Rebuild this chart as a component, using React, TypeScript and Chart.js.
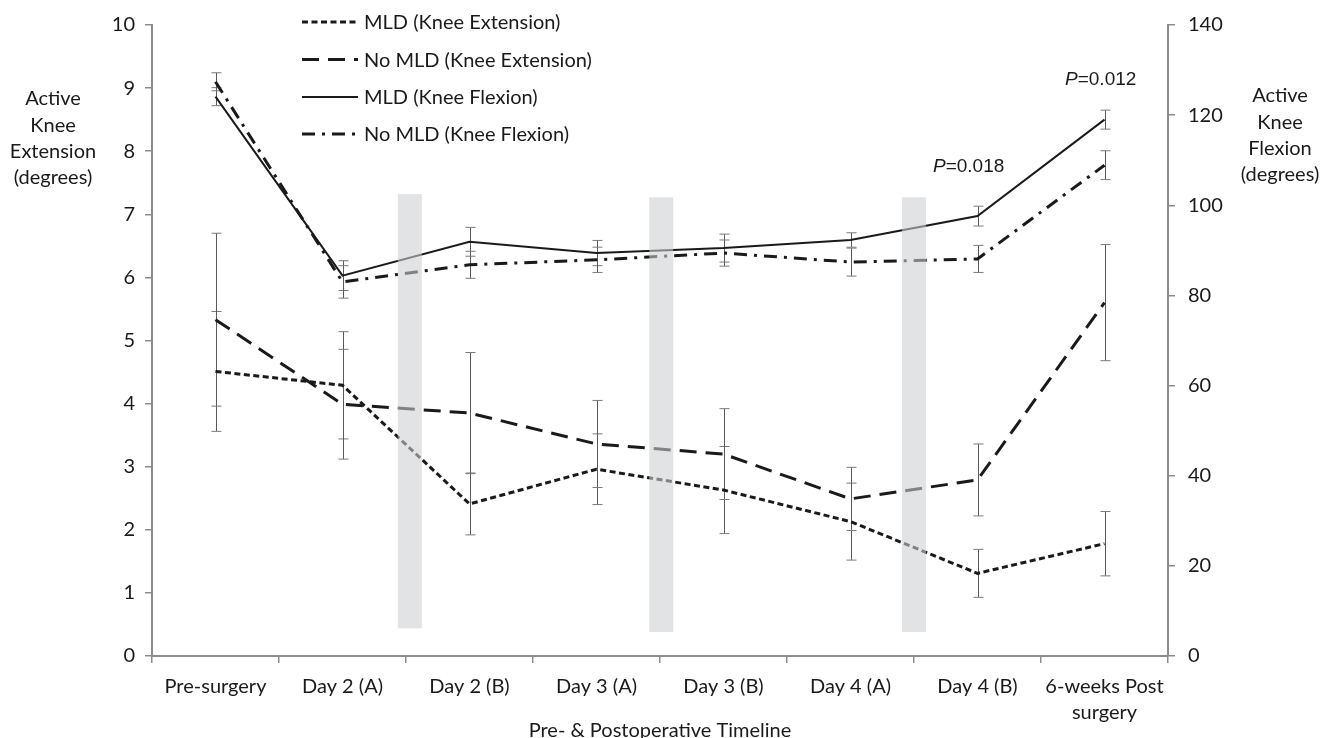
import React, { useEffect, useRef } from 'react';
import { Chart, registerables } from 'chart.js';

Chart.register(...registerables);

// ---------- data ----------
const categories: (string | string[])[] = [
  'Pre-surgery',
  'Day 2 (A)',
  'Day 2 (B)',
  'Day 3 (A)',
  'Day 3 (B)',
  'Day 4 (A)',
  'Day 4 (B)',
  ['6-weeks Post', 'surgery'],
];

const seriesNames = [
  'MLD (Knee Extension)',
  'No MLD (Knee Extension)',
  'MLD (Knee Flexion)',
  'No MLD (Knee Flexion)',
];

// left axis (extension, degrees)
const mldExtension = [4.51, 4.29, 2.41, 2.96, 2.63, 2.13, 1.31, 1.78];
const mldExtensionErr = [0.95, 0.85, 0.49, 0.56, 0.69, 0.61, 0.38, 0.51];
const noMldExtension = [5.33, 3.99, 3.85, 3.36, 3.2, 2.49, 2.79, 5.6];
const noMldExtensionErr = [1.37, 0.87, 0.96, 0.69, 0.72, 0.5, 0.57, 0.92];

// right axis (flexion, degrees)
const mldFlexion = [124.1, 84.4, 91.9, 89.4, 90.5, 92.3, 97.6, 119.0];
const mldFlexionErr = [2.0, 3.3, 3.2, 2.8, 3.1, 1.6, 2.2, 2.1];
const noMldFlexion = [127.4, 83.0, 86.8, 87.9, 89.4, 87.4, 88.1, 108.9];
const noMldFlexionErr = [2.0, 3.6, 3.0, 2.8, 2.9, 3.1, 3.0, 3.2];

// grey session bands (category position, extension-axis range)
const bandPositions = [1.53, 3.51, 5.5];
const bandTops = [7.32, 7.27, 7.27];
const bandBottoms = [0.44, 0.38, 0.38];

// p-value annotations (category position, flexion-axis value)
const pLabels = ['=0.018', '=0.012'];
const pPositions = [5.93, 6.97];
const pFlexion = [108.6, 127.8];

const extTicks = { min: 0, max: 10, step: 1 };
const flexTicks = { min: 0, max: 140, step: 20 };

// ---------- styles ----------
const FONT = 'Lato, "Open Sans", sans-serif';
const FS = 20;
const TEXT = '#1a1a1a';
const AXIS = '#8c8c8c';
const LINE = '#1a1a1a';
const dashes: number[][] = [[6, 3.5], [17, 9], [], [13, 7, 3, 7]];
const widths = [3, 3, 2, 3];

export default function App() {
  const ref = useRef<HTMLCanvasElement>(null);

  useEffect(() => {
    const canvas = ref.current;
    if (!canvas) return;

    const errors = [mldExtensionErr, noMldExtensionErr, mldFlexionErr, noMldFlexionErr];

    const errorBars = {
      id: 'errorBars',
      beforeDatasetsDraw(chart: any) {
        const c = chart.ctx;
        const xs = chart.scales.x;
        c.save();
        chart.data.datasets.forEach((ds: any, i: number) => {
          const ys = chart.scales[ds.yAxisID];
          ds.data.forEach((v: number, j: number) => {
            const e = errors[i][j];
            const x = Math.round(xs.getPixelForValue(j)) + 0.5;
            const yt = ys.getPixelForValue(v + e);
            const yb = ys.getPixelForValue(v - e);
            c.strokeStyle = '#5a5a5a';
            c.lineWidth = 1;
            c.beginPath();
            c.moveTo(x, yt);
            c.lineTo(x, yb);
            c.stroke();
            c.strokeStyle = '#7a7a7a';
            c.beginPath();
            c.moveTo(x - 5, yt);
            c.lineTo(x + 5, yt);
            c.moveTo(x - 5, yb);
            c.lineTo(x + 5, yb);
            c.stroke();
          });
        });
        c.restore();
      },
    };

    const bands = {
      id: 'bands',
      afterDatasetsDraw(chart: any) {
        const c = chart.ctx;
        const xs = chart.scales.x;
        const ys = chart.scales.y;
        c.save();
        c.fillStyle = 'rgba(204,206,210,0.58)';
        bandPositions.forEach((p, i) => {
          const cx = xs.getPixelForValue(p);
          const top = ys.getPixelForValue(bandTops[i]);
          const bottom = ys.getPixelForValue(bandBottoms[i]);
          c.fillRect(cx - 12, top, 24, bottom - top);
        });
        c.restore();
      },
    };

    const decorations = {
      id: 'decorations',
      afterDraw(chart: any) {
        const c = chart.ctx;
        c.save();
        // legend
        c.font = `${FS}px ${FONT}`;
        c.textBaseline = 'middle';
        c.textAlign = 'left';
        const rows = [22, 59.5, 97, 134];
        seriesNames.forEach((name, i) => {
          c.strokeStyle = LINE;
          c.lineWidth = widths[i];
          c.setLineDash(dashes[i]);
          c.beginPath();
          c.moveTo(302, rows[i]);
          c.lineTo(358, rows[i]);
          c.stroke();
          c.setLineDash([]);
          c.fillStyle = TEXT;
          c.fillText(name, 364, rows[i] + 1);
        });

        // axis titles
        c.textAlign = 'center';
        c.fillStyle = TEXT;
        const leftTitle = ['Active', 'Knee', 'Extension', '(degrees)'];
        leftTitle.forEach((t, i) => c.fillText(t, 53, 99 + i * 26.3));
        const rightTitle = ['Active', 'Knee', 'Flexion', '(degrees)'];
        rightTitle.forEach((t, i) => c.fillText(t, 1280, 96 + i * 26.3));
        c.fillText('Pre- & Postoperative Timeline', 660, 731);

        // p-values
        const xs = chart.scales.x;
        const ys = chart.scales.y1;
        const pFont = '"Liberation Sans", Arial, sans-serif';
        pLabels.forEach((lab, i) => {
          const cx = xs.getPixelForValue(pPositions[i]);
          const cy = ys.getPixelForValue(pFlexion[i]);
          c.font = `italic 19px ${pFont}`;
          const wP = c.measureText('P').width;
          c.font = `19px ${pFont}`;
          const wL = c.measureText(lab).width;
          const x0 = cx - (wP + wL) / 2;
          c.textAlign = 'left';
          c.font = `italic 19px ${pFont}`;
          c.fillText('P', x0, cy);
          c.font = `19px ${pFont}`;
          c.fillText(lab, x0 + wP, cy);
        });
        c.restore();
      },
    };

    const chart = new Chart(canvas, {
      type: 'line',
      data: {
        labels: categories as any,
        datasets: [
          { label: seriesNames[0], data: mldExtension, yAxisID: 'y' },
          { label: seriesNames[1], data: noMldExtension, yAxisID: 'y' },
          { label: seriesNames[2], data: mldFlexion, yAxisID: 'y1' },
          { label: seriesNames[3], data: noMldFlexion, yAxisID: 'y1' },
        ].map((d, i) => ({
          ...d,
          borderColor: LINE,
          backgroundColor: LINE,
          borderWidth: widths[i],
          borderDash: dashes[i],
          pointRadius: 0,
          pointHoverRadius: 0,
          tension: 0,
          fill: false,
        })),
      },
      options: {
        animation: false,
        responsive: true,
        maintainAspectRatio: false,
        devicePixelRatio: 1,
        layout: { padding: { top: 22, left: 0, right: 0, bottom: 0 } },
        plugins: {
          legend: { display: false },
          tooltip: { enabled: false },
          title: { display: false },
        },
        font: { family: FONT, size: FS },
        scales: {
          x: {
            type: 'category',
            offset: true,
            grid: {
              offset: true,
              drawOnChartArea: false,
              drawTicks: true,
              tickLength: 7,
              color: AXIS,
              lineWidth: 1.5,
            },
            border: { display: true, color: AXIS, width: 2 },
            ticks: {
              color: TEXT,
              font: { family: FONT, size: FS, lineHeight: 1.33 },
              padding: 10,
              maxRotation: 0,
              minRotation: 0,
              autoSkip: false,
            },
            afterFit(scale: any) {
              scale.height = 82;
            },
          },
          y: {
            type: 'linear',
            position: 'left',
            min: extTicks.min,
            max: extTicks.max,
            ticks: {
              stepSize: extTicks.step,
              color: TEXT,
              font: { family: FONT, size: FS },
              padding: 10,
            },
            grid: {
              drawOnChartArea: false,
              drawTicks: true,
              tickLength: 7,
              color: AXIS,
              lineWidth: 1.5,
            },
            border: { display: true, color: AXIS, width: 2 },
            afterFit(scale: any) {
              scale.width = 152;
            },
          },
          y1: {
            type: 'linear',
            position: 'right',
            min: flexTicks.min,
            max: flexTicks.max,
            ticks: {
              stepSize: flexTicks.step,
              color: TEXT,
              font: { family: FONT, size: FS },
              padding: 13,
            },
            grid: {
              drawOnChartArea: false,
              drawTicks: true,
              tickLength: 7,
              color: AXIS,
              lineWidth: 1.5,
            },
            border: { display: true, color: AXIS, width: 2 },
            afterFit(scale: any) {
              scale.width = 154;
            },
          },
        },
      } as any,
      plugins: [errorBars, bands, decorations],
    });

    return () => chart.destroy();
  }, []);

  return (
    <div
      style={{
        position: 'fixed',
        left: 0,
        top: 0,
        width: 1322,
        height: 738,
        background: '#ffffff',
      }}
    >
      <canvas ref={ref} />
    </div>
  );
}
